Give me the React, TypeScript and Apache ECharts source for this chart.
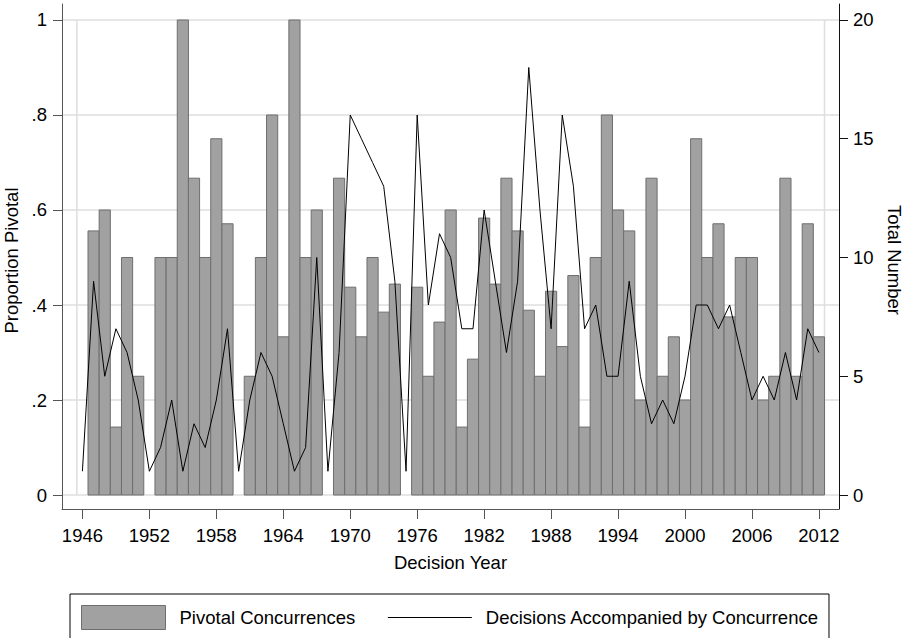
import React, { useEffect, useRef } from 'react';
import * as echarts from 'echarts';

// ---- Data ----
const years = [
  1946, 1947, 1948, 1949, 1950, 1951, 1952, 1953, 1954, 1955, 1956, 1957, 1958, 1959,
  1960, 1961, 1962, 1963, 1964, 1965, 1966, 1967, 1968, 1969, 1970, 1971, 1972, 1973,
  1974, 1975, 1976, 1977, 1978, 1979, 1980, 1981, 1982, 1983, 1984, 1985, 1986, 1987,
  1988, 1989, 1990, 1991, 1992, 1993, 1994, 1995, 1996, 1997, 1998, 1999, 2000, 2001,
  2002, 2003, 2004, 2005, 2006, 2007, 2008, 2009, 2010, 2011, 2012,
];

// Proportion pivotal (bars, left axis)
const proportionPivotal = [
  0, 0.556, 0.6, 0.143, 0.5, 0.25, 0, 0.5, 0.5, 1.0, 0.667, 0.5, 0.75, 0.571,
  0, 0.25, 0.5, 0.8, 0.333, 1.0, 0.5, 0.6, 0, 0.667, 0.4375, 0.333, 0.5, 0.385,
  0.444, 0, 0.4375, 0.25, 0.364, 0.6, 0.143, 0.286, 0.583, 0.444, 0.667, 0.556, 0.389, 0.25,
  0.429, 0.3125, 0.462, 0.143, 0.5, 0.8, 0.6, 0.556, 0.2, 0.667, 0.25, 0.333, 0.2, 0.75,
  0.5, 0.571, 0.375, 0.5, 0.5, 0.2, 0.25, 0.667, 0.25, 0.571, 0.333,
];

// Decisions accompanied by concurrence (line, right axis)
const totalDecisions = [
  1, 9, 5, 7, 6, 4, 1, 2, 4, 1, 3, 2, 4, 7,
  1, 4, 6, 5, 3, 1, 2, 10, 1, 6, 16, 15, 14, 13,
  9, 1, 16, 8, 11, 10, 7, 7, 12, 9, 6, 9, 18, 12,
  7, 16, 13, 7, 8, 5, 5, 9, 5, 3, 4, 3, 5, 8,
  8, 7, 8, 6, 4, 5, 4, 6, 4, 7, 6,
];

const xTickYears = [1946, 1952, 1958, 1964, 1970, 1976, 1982, 1988, 1994, 2000, 2006, 2012];
const leftTicks = [0, 0.2, 0.4, 0.6, 0.8, 1];
const rightTicks = [0, 5, 10, 15, 20];
const plotEdges = [1945.5, 2012.5];

const seriesNames = ['Pivotal Concurrences', 'Decisions Accompanied by Concurrence'];

// ---- Styles ----
const FONT = '"Liberation Sans", Arial, Helvetica, sans-serif';
const FS = 18.5;
const BAR_FILL = '#a1a1a1';
const BAR_STROKE = '#6e6e6e';
const GRID = '#dedede';
const AXIS = '#555555';

const X_MIN = 1944.17;
const X_MAX = 2013.8;
const Y_MIN = -0.02947;
const Y_MAX = 1.03368;

export default function App() {
  const ref = useRef<HTMLDivElement>(null);

  useEffect(() => {
    const chart = echarts.init(ref.current as HTMLDivElement, null, { renderer: 'svg' });
    const textBase = { fontFamily: FONT, fontSize: FS, color: '#000' };

    const option: any = {
      animation: false,
      backgroundColor: '#ffffff',
      grid: { left: 62, right: 70, top: 4, bottom: 129, outerBoundsMode: 'none', containLabel: false },
      legend: {
        left: 70,
        top: 594,
        orient: 'horizontal',
        padding: [11, 10, 9, 11],
        itemWidth: 84,
        itemHeight: 24,
        itemGap: 32,
        borderColor: '#000',
        borderWidth: 1,
        borderRadius: 0,
        selectedMode: false,
        textStyle: { ...textBase, padding: [0, 0, 0, 9] },
        data: [
          {
            name: seriesNames[0],
            icon: 'rect',
            itemStyle: { color: BAR_FILL, borderColor: BAR_STROKE, borderWidth: 1 },
          },
          {
            name: seriesNames[1],
            itemStyle: { opacity: 0 },
            lineStyle: { color: '#000', width: 1, opacity: 1 },
          },
        ],
      },
      xAxis: {
        type: 'value',
        min: X_MIN,
        max: X_MAX,
        name: 'Decision Year',
        nameLocation: 'middle',
        nameGap: 43.5,
        nameTextStyle: textBase,
        axisLine: { show: true, onZero: false, lineStyle: { color: AXIS, width: 1 } },
        axisTick: { show: true, length: 10, customValues: xTickYears, lineStyle: { color: AXIS, width: 1 } },
        axisLabel: {
          ...textBase,
          customValues: xTickYears,
          margin: 17,
          formatter: (v: number) => String(v),
        },
        splitLine: { show: false },
      },
      yAxis: [
        {
          type: 'value',
          position: 'left',
          min: Y_MIN,
          max: Y_MAX,
          name: 'Proportion Pivotal',
          nameLocation: 'middle',
          nameGap: 36,
          nameTextStyle: { ...textBase, padding: [0, 8, 0, 0] },
          axisLine: { show: true, onZero: false, lineStyle: { color: AXIS, width: 1 } },
          axisTick: { show: true, length: 9, customValues: leftTicks, lineStyle: { color: AXIS, width: 1 } },
          axisLabel: {
            ...textBase,
            customValues: leftTicks,
            margin: 15,
            formatter: (v: number) => (v === 0 ? '0' : v === 1 ? '1' : String(v).replace(/^0/, '')),
          },
          splitLine: { show: true, lineStyle: { color: GRID, width: 1.5 } },
        },
        {
          type: 'value',
          position: 'right',
          min: Y_MIN * 20,
          max: Y_MAX * 20,
          name: 'Total Number',
          nameLocation: 'middle',
          nameRotate: -90,
          nameGap: 46,
          nameTextStyle: { ...textBase, padding: [0, 0, 0, 7] },
          axisLine: { show: true, onZero: false, lineStyle: { color: '#111', width: 1 } },
          axisTick: { show: true, length: 9, customValues: rightTicks, lineStyle: { color: '#111', width: 1 } },
          axisLabel: {
            ...textBase,
            customValues: rightTicks,
            margin: 14,
            formatter: (v: number) => String(v),
          },
          splitLine: { show: false },
        },
      ],
      series: [
        {
          type: 'custom',
          name: '__edges',
          xAxisIndex: 0,
          yAxisIndex: 0,
          z: 1,
          silent: true,
          data: plotEdges.map((x) => [x]),
          encode: { x: 0 },
          renderItem: (_p: any, api: any) => {
            const x = api.value(0);
            const a = api.coord([x, leftTicks[0]]);
            const b = api.coord([x, leftTicks[leftTicks.length - 1]]);
            return {
              type: 'line',
              shape: { x1: a[0], y1: a[1], x2: b[0], y2: b[1] },
              style: { stroke: GRID, lineWidth: 1.5 },
            };
          },
        },
        {
          type: 'custom',
          name: seriesNames[0],
          xAxisIndex: 0,
          yAxisIndex: 0,
          z: 2,
          data: years.map((y, i) => [y, proportionPivotal[i]]),
          encode: { x: 0, y: 1 },
          itemStyle: { color: BAR_FILL, borderColor: BAR_STROKE, borderWidth: 1 },
          renderItem: (_p: any, api: any) => {
            const x = api.value(0);
            const v = api.value(1);
            if (!v) return null;
            const a = api.coord([x - 0.5, 0]);
            const b = api.coord([x + 0.5, v]);
            return {
              type: 'rect',
              shape: { x: a[0], y: b[1], width: b[0] - a[0], height: a[1] - b[1] },
              style: { fill: BAR_FILL, stroke: BAR_STROKE, lineWidth: 1 },
            };
          },
        },
        {
          type: 'line',
          name: seriesNames[1],
          xAxisIndex: 0,
          yAxisIndex: 1,
          z: 3,
          data: years.map((y, i) => [y, totalDecisions[i]]),
          symbol: 'none',
          showSymbol: false,
          lineStyle: { color: '#000', width: 1 },
          itemStyle: { color: '#000' },
        },
      ],
    };

    chart.setOption(option);
    return () => chart.dispose();
  }, []);

  return (
    <div
      ref={ref}
      style={{ position: 'fixed', left: 0, top: 0, width: 909, height: 638, background: '#fff' }}
    />
  );
}
